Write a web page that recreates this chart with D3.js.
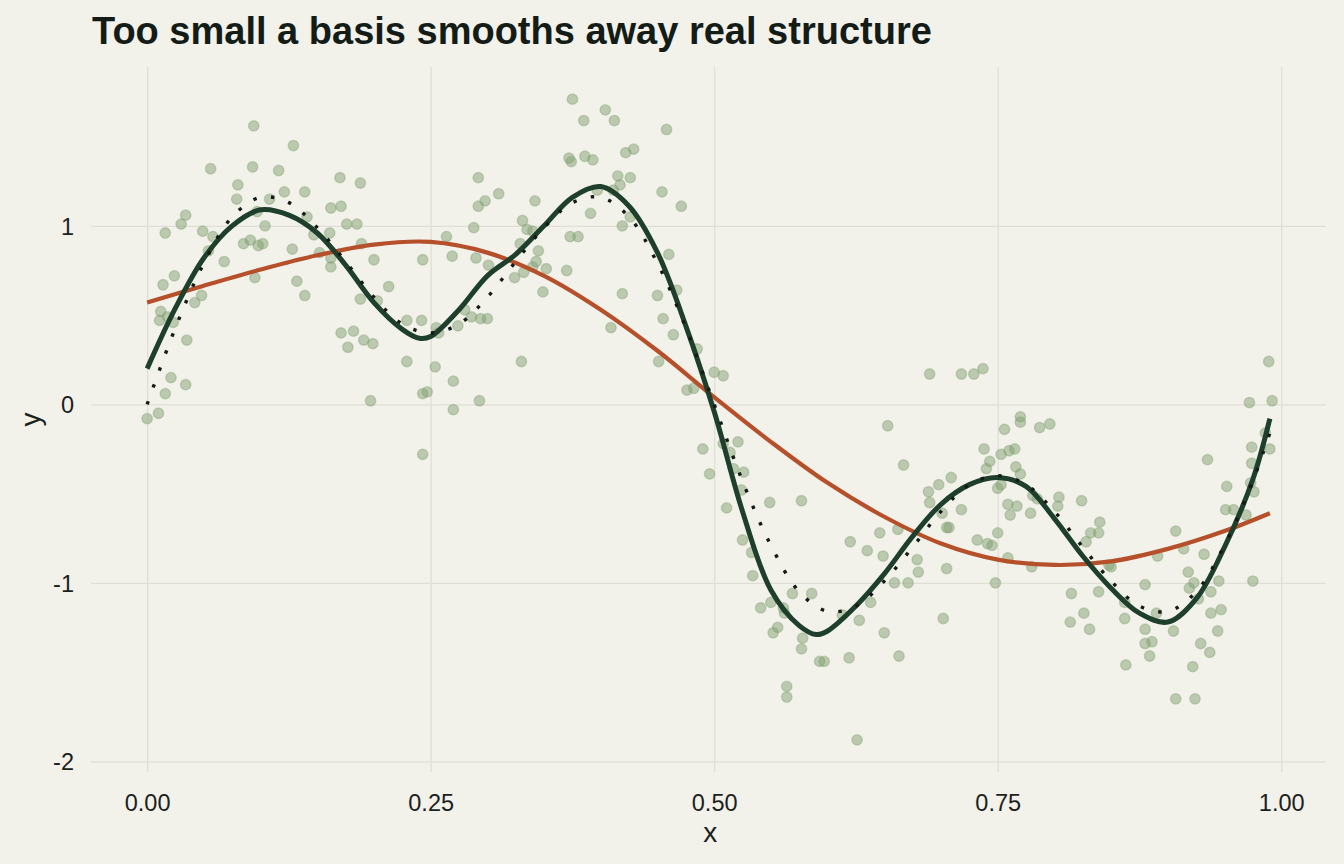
<!DOCTYPE html>
<html lang="en">
<head>
<meta charset="UTF-8">
<title>Too small a basis smooths away real structure</title>
<script src="https://d3js.org/d3.v7.min.js"></script>
<style>
  html, body { margin: 0; padding: 0; background: #f2f1ea; }
  svg { display: block; font-family: "Liberation Sans", Arial, sans-serif; }
</style>
</head>
<body>
<svg id="chart"></svg>
<script>
// observed points [x, y]
const points = [
  [0.094,1.56],[0.129,1.45],[0.056,1.32],[0.093,1.33],[0.116,1.31],[0.080,1.23],[0.079,1.15],[0.121,1.19],[0.139,1.19],[0.170,1.27],
  [0.188,1.24],[0.108,1.15],[0.034,1.06],[0.030,1.01],[0.016,0.96],[0.049,0.97],[0.097,1.08],[0.104,1.00],[0.141,1.05],[0.162,1.10],
  [0.171,1.11],[0.176,1.01],[0.185,1.01],[0.161,0.96],[0.147,0.95],[0.058,0.94],[0.054,0.86],[0.068,0.80],[0.085,0.90],[0.091,0.92],
  [0.098,0.89],[0.102,0.90],[0.128,0.87],[0.152,0.85],[0.162,0.82],[0.162,0.77],[0.014,0.67],[0.024,0.72],[0.095,0.71],[0.132,0.69],
  [0.139,0.61],[0.048,0.61],[0.042,0.57],[0.012,0.52],[0.011,0.47],[0.018,0.49],[0.023,0.46],[0.035,0.36],[0.171,0.40],[0.182,0.41],
  [0.177,0.32],[0.188,0.59],[0.021,0.15],[0.034,0.11],[0.016,0.06],[0.010,-0.05],[0.000,-0.08],
  [0.375,1.71],[0.385,1.59],[0.372,1.38],[0.374,1.36],[0.386,1.39],[0.391,1.07],[0.189,0.90],[0.200,0.81],[0.243,0.81],[0.213,0.66],
  [0.203,0.58],[0.264,0.94],[0.269,0.83],[0.292,1.27],[0.298,1.14],[0.292,1.11],[0.310,1.18],[0.288,0.99],[0.290,0.82],[0.301,0.78],
  [0.342,1.14],[0.331,1.03],[0.335,0.98],[0.340,0.97],[0.329,0.90],[0.345,0.86],[0.340,0.77],[0.343,0.80],[0.324,0.71],[0.332,0.74],
  [0.352,0.76],[0.349,0.63],[0.370,0.75],[0.373,0.94],[0.380,0.94],[0.229,0.47],[0.242,0.47],[0.255,0.43],[0.257,0.40],[0.274,0.44],
  [0.280,0.53],[0.286,0.49],[0.294,0.48],[0.300,0.48],[0.191,0.36],[0.199,0.34],[0.229,0.24],[0.254,0.21],[0.330,0.24],[0.270,0.13],
  [0.243,0.06],[0.247,0.07],[0.197,0.02],[0.293,0.02],[0.270,-0.03],[0.243,-0.28],
  [0.404,1.65],[0.412,1.59],[0.458,1.54],[0.393,1.37],[0.422,1.41],[0.429,1.43],[0.415,1.28],[0.417,1.23],[0.426,1.27],[0.397,1.20],
  [0.411,1.20],[0.454,1.19],[0.471,1.11],[0.419,1.00],[0.426,1.05],[0.460,0.84],[0.467,0.64],[0.419,0.62],[0.450,0.61],[0.455,0.48],
  [0.409,0.43],[0.464,0.39],[0.485,0.31],[0.451,0.24],[0.500,0.18],[0.508,0.16],[0.476,0.08],[0.482,0.09],
  [0.490,-0.25],[0.496,-0.39],[0.508,-0.22],[0.514,-0.27],[0.521,-0.21],[0.526,-0.38],[0.524,-0.48],[0.517,-0.36],[0.511,-0.58],[0.549,-0.55],
  [0.577,-0.54],[0.525,-0.76],[0.533,-0.83],[0.534,-0.96],[0.569,-1.06],[0.586,-1.06],[0.541,-1.14],[0.550,-1.11],[0.561,-1.14],[0.562,-1.17],
  [0.556,-1.25],[0.552,-1.28],[0.578,-1.31],[0.577,-1.37],[0.593,-1.44],[0.564,-1.58],[0.564,-1.64],
  [0.690,0.17],[0.718,0.17],[0.729,0.17],[0.737,0.20],[0.653,-0.12],[0.667,-0.34],[0.770,-0.07],[0.770,-0.10],[0.756,-0.14],[0.787,-0.13],
  [0.796,-0.11],[0.738,-0.25],[0.753,-0.28],[0.760,-0.26],[0.765,-0.25],[0.743,-0.32],[0.740,-0.36],[0.766,-0.35],[0.770,-0.39],[0.709,-0.41],
  [0.698,-0.45],[0.689,-0.49],[0.690,-0.55],[0.750,-0.47],[0.753,-0.45],[0.701,-0.61],[0.718,-0.59],[0.759,-0.56],[0.767,-0.57],[0.761,-0.62],
  [0.779,-0.61],[0.781,-0.51],[0.785,-0.53],[0.705,-0.69],[0.707,-0.69],[0.750,-0.72],[0.732,-0.76],[0.741,-0.78],[0.745,-0.79],[0.646,-0.72],
  [0.662,-0.70],[0.620,-0.77],[0.635,-0.82],[0.649,-0.85],[0.679,-0.87],[0.680,-0.94],[0.705,-0.92],[0.759,-0.86],[0.780,-0.91],[0.748,-1.00],
  [0.659,-1.00],[0.671,-1.00],[0.638,-1.11],[0.613,-1.18],[0.628,-1.21],[0.702,-1.20],[0.650,-1.28],[0.663,-1.41],[0.597,-1.44],[0.619,-1.42],
  [0.626,-1.88],
  [0.989,0.24],[0.972,0.01],[0.992,0.02],[0.986,-0.16],[0.974,-0.24],[0.990,-0.25],[0.935,-0.31],[0.974,-0.33],[0.973,-0.44],[0.976,-0.49],
  [0.952,-0.46],[0.804,-0.52],[0.803,-0.57],[0.824,-0.54],[0.951,-0.59],[0.958,-0.59],[0.969,-0.62],[0.840,-0.66],[0.832,-0.72],[0.839,-0.72],
  [0.828,-0.77],[0.907,-0.71],[0.914,-0.81],[0.932,-0.84],[0.891,-0.85],[0.848,-0.90],[0.850,-0.91],[0.918,-0.94],[0.945,-0.99],[0.975,-0.99],
  [0.880,-1.01],[0.839,-1.05],[0.815,-1.06],[0.923,-1.00],[0.919,-1.03],[0.938,-1.05],[0.927,-1.09],[0.862,-1.11],[0.826,-1.17],[0.938,-1.17],
  [0.947,-1.15],[0.890,-1.17],[0.862,-1.20],[0.814,-1.22],[0.831,-1.26],[0.880,-1.26],[0.905,-1.27],[0.944,-1.27],[0.886,-1.33],[0.880,-1.34],
  [0.884,-1.41],[0.929,-1.34],[0.937,-1.39],[0.863,-1.46],[0.922,-1.47],[0.907,-1.65],[0.924,-1.65]
];

// small basis fit (orange)
const smallX = [0, 0.05, 0.10, 0.15, 0.20, 0.25, 0.30, 0.35, 0.40, 0.45, 0.50, 0.55, 0.60, 0.65, 0.70, 0.75, 0.80, 0.85, 0.90, 0.95, 0.99];
const smallY = [0.57, 0.665, 0.755, 0.835, 0.895, 0.91, 0.85, 0.72, 0.53, 0.30, 0.04, -0.21, -0.44, -0.63, -0.78, -0.87, -0.90, -0.88, -0.81, -0.71, -0.61];

// adequate basis fit (dark green)
const bigX = [0, 0.025, 0.05, 0.075, 0.10, 0.125, 0.15, 0.175, 0.20, 0.225, 0.24, 0.25, 0.275, 0.30, 0.325, 0.35, 0.375, 0.40, 0.425, 0.45, 0.475, 0.50,
              0.525, 0.55, 0.575, 0.59, 0.60, 0.625, 0.65, 0.675, 0.70, 0.725, 0.75, 0.775, 0.80, 0.825, 0.85, 0.875, 0.90, 0.925, 0.95, 0.975, 0.99];
const bigY = [0.20, 0.54, 0.82, 1.00, 1.09, 1.06, 0.96, 0.78, 0.57, 0.42, 0.37, 0.38, 0.53, 0.72, 0.84, 1.00, 1.16, 1.22, 1.11, 0.85, 0.44, -0.04,
              -0.60, -1.04, -1.24, -1.29, -1.27, -1.13, -0.95, -0.74, -0.56, -0.45, -0.41, -0.46, -0.64, -0.85, -1.03, -1.17, -1.22, -1.09, -0.80, -0.42, -0.08];

// true curve (dotted)
const trueX = [0, 0.025, 0.05, 0.075, 0.10, 0.125, 0.15, 0.175, 0.20, 0.225, 0.25, 0.275, 0.30, 0.325, 0.35, 0.375, 0.40, 0.425, 0.45, 0.475, 0.50,
               0.525, 0.55, 0.575, 0.60, 0.625, 0.65, 0.675, 0.70, 0.725, 0.75, 0.775, 0.80, 0.825, 0.85, 0.875, 0.90, 0.925, 0.95, 0.975, 0.99];
const trueY = [0, 0.43, 0.79, 1.05, 1.16, 1.13, 0.99, 0.80, 0.60, 0.45, 0.40, 0.45, 0.60, 0.80, 0.99, 1.13, 1.16, 1.05, 0.79, 0.43, 0,
               -0.43, -0.79, -1.05, -1.16, -1.13, -0.99, -0.80, -0.60, -0.45, -0.40, -0.45, -0.60, -0.80, -0.99, -1.13, -1.16, -1.05, -0.79, -0.43, -0.16];

const xTicks = [0, 0.25, 0.5, 0.75, 1];
const yTicks = [-2, -1, 0, 1];

const W = 1344, H = 864;
const panel = { left: 91, right: 1326, top: 67, bottom: 772 };
const bg = "#f2f1ea", gridCol = "#e0dfd6", textCol = "#1b211c";

const svg = d3.select("#chart").attr("width", W).attr("height", H);
svg.append("rect").attr("width", W).attr("height", H).attr("fill", bg);

const x = d3.scaleLinear().domain([-0.0495, 1.0395]).range([panel.left, panel.right]);
const y = d3.scaleLinear().domain([-2.06, 1.89]).range([panel.bottom, panel.top]);

// grid via axes
const gx = svg.append("g").attr("transform", `translate(0,${panel.bottom})`)
  .call(d3.axisBottom(x).tickValues(xTicks).tickSize(-(panel.bottom - panel.top)).tickFormat(d3.format(".2f")).tickPadding(22));
const gy = svg.append("g").attr("transform", `translate(${panel.left},0)`)
  .call(d3.axisLeft(y).tickValues(yTicks).tickSize(-(panel.right - panel.left)).tickFormat(d => String(d)).tickPadding(17));
[gx, gy].forEach(g => {
  g.select(".domain").remove();
  g.selectAll(".tick line").attr("stroke", gridCol).attr("stroke-width", 1.3);
  g.selectAll(".tick text").attr("fill", textCol).attr("font-size", 23.5)
    .attr("font-family", "'Liberation Sans', Arial, sans-serif");
});
gy.selectAll(".tick text").attr("dy", "0.36em");

// points
svg.append("g").selectAll("circle").data(points).join("circle")
  .attr("cx", d => x(d[0])).attr("cy", d => y(d[1])).attr("r", 5.2)
  .attr("fill", "#7f9e6f").attr("fill-opacity", 0.48)
  .attr("stroke", "#7f9e6f").attr("stroke-opacity", 0.38).attr("stroke-width", 1.4);

const line = d3.line().x(d => x(d[0])).y(d => y(d[1])).curve(d3.curveCatmullRom.alpha(0.5));

svg.append("path").datum(d3.zip(smallX, smallY)).attr("d", line)
  .attr("fill", "none").attr("stroke", "#b5502a").attr("stroke-width", 4.2);

svg.append("path").datum(d3.zip(bigX, bigY)).attr("d", line)
  .attr("fill", "none").attr("stroke", "#1e3f2c").attr("stroke-width", 5).attr("stroke-linecap", "butt");

svg.append("path").datum(d3.zip(trueX, trueY)).attr("d", line)
  .attr("fill", "none").attr("stroke", "#151a16").attr("stroke-width", 3.4)
  .attr("stroke-dasharray", "3.4 14.6");

// titles
svg.append("text").attr("x", 92).attr("y", 44).attr("fill", "#141c17")
  .attr("font-size", 38).attr("font-weight", "bold").text("Too small a basis smooths away real structure");
svg.append("text").attr("x", x(0.5) - 4).attr("y", 842).attr("text-anchor", "middle")
  .attr("fill", textCol).attr("font-size", 28).text("x");
svg.append("text").attr("transform", `translate(40,${(panel.top + panel.bottom) / 2}) rotate(-90)`)
  .attr("text-anchor", "middle").attr("fill", textCol).attr("font-size", 28).text("y");
</script>
</body>
</html>
